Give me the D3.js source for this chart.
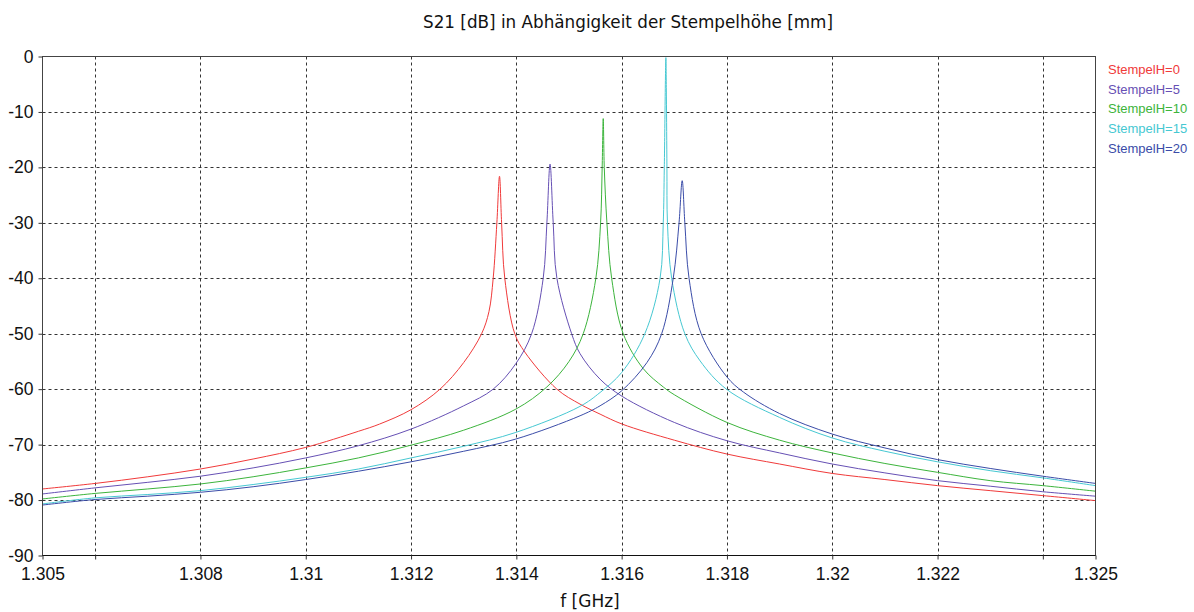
<!DOCTYPE html>
<html>
<head>
<meta charset="utf-8">
<script src="https://cdn.jsdelivr.net/npm/d3@7"></script>
<style>
  html, body { margin: 0; padding: 0; background: #fff; }
  svg { display: block; font-family: "Liberation Sans", Arial, sans-serif; }
</style>
</head>
<body>
<svg id="chart" width="1194" height="612"></svg>
<script>
// Series labels and line colours
const seriesNames = ["StempelH=0", "StempelH=5", "StempelH=10", "StempelH=15", "StempelH=20"];
const seriesColors = ["#f03a3a", "#6650b4", "#3cb43c", "#46c8d2", "#3a4ca8"];

// Frequency [GHz] and S21 [dB] samples per stamp height
const freqH0 = [1.305, 1.306, 1.307, 1.308, 1.309, 1.310, 1.311, 1.3114, 1.312, 1.31255, 1.313, 1.31334, 1.31348, 1.31356, 1.31363, 1.31368, 1.31372, 1.31378, 1.31397, 1.31416, 1.31477, 1.31521, 1.31559, 1.31601, 1.317, 1.318, 1.319, 1.320, 1.321, 1.322, 1.323, 1.324, 1.325];
const s21H0  = [-78.0, -77.0, -75.8, -74.4, -72.6, -70.5, -67.6, -66.3, -63.7, -60.0, -55.2, -50.0, -46.0, -40.0, -30.0, -21.6, -30.0, -40.0, -50.0, -53.3, -60.0, -62.7, -64.5, -66.3, -69.2, -71.7, -73.5, -75.2, -76.3, -77.4, -78.3, -79.2, -80.1];

const freqH5 = [1.305, 1.306, 1.307, 1.308, 1.309, 1.310, 1.311, 1.312, 1.313, 1.31356, 1.31399, 1.31429, 1.31451, 1.31458, 1.31464, 1.3147, 1.31477, 1.31505, 1.31521, 1.31559, 1.31601, 1.317, 1.318, 1.319, 1.320, 1.321, 1.322, 1.323, 1.324, 1.325];
const s21H5  = [-78.9, -77.8, -76.8, -75.7, -74.2, -72.4, -70.2, -67.2, -63.0, -60.0, -55.4, -50.0, -40.0, -30.0, -19.4, -30.0, -40.0, -50.0, -53.6, -58.2, -61.3, -66.0, -69.3, -71.5, -73.5, -75.1, -76.5, -77.5, -78.5, -79.3];

const freqH10 = [1.305, 1.306, 1.307, 1.308, 1.309, 1.310, 1.311, 1.312, 1.313, 1.31399, 1.31458, 1.315, 1.31527, 1.31551, 1.3156, 1.31563, 1.31565, 1.31567, 1.31572, 1.31581, 1.31603, 1.31641, 1.31679, 1.317, 1.318, 1.319, 1.320, 1.321, 1.322, 1.323, 1.324, 1.325];
const s21H10  = [-79.8, -78.8, -78.0, -77.1, -75.8, -74.2, -72.4, -70.1, -67.4, -63.6, -59.6, -55.0, -50.0, -40.0, -30.0, -20.0, -11.2, -20.0, -30.0, -40.0, -50.0, -56.3, -59.6, -61.0, -66.0, -69.2, -71.5, -73.4, -75.0, -76.5, -77.4, -78.4];

const freqH15 = [1.305, 1.306, 1.307, 1.308, 1.309, 1.310, 1.311, 1.312, 1.313, 1.31399, 1.31521, 1.31559, 1.316, 1.31644, 1.31673, 1.31679, 1.31681, 1.31684, 1.31685, 1.31686, 1.31687, 1.31695, 1.3172, 1.31749, 1.31799, 1.319, 1.320, 1.321, 1.322, 1.323, 1.324, 1.325];
const s21H15  = [-80.7, -79.6, -79.0, -78.3, -77.2, -75.9, -74.4, -72.4, -70.3, -67.8, -63.1, -60.6, -57.0, -50.0, -40.0, -30.0, -20.0, -0.2, -7.3, -20.0, -30.0, -40.0, -50.0, -54.9, -60.0, -65.1, -68.8, -71.2, -73.1, -74.7, -76.0, -77.4];

const freqH20 = [1.305, 1.306, 1.307, 1.308, 1.309, 1.310, 1.311, 1.312, 1.313, 1.31399, 1.31521, 1.31559, 1.316, 1.31648, 1.31676, 1.31698, 1.31709, 1.31715, 1.3172, 1.31728, 1.31751, 1.318, 1.31831, 1.319, 1.320, 1.321, 1.322, 1.323, 1.324, 1.325];
const s21H20  = [-80.9, -79.9, -79.3, -78.6, -77.6, -76.3, -74.8, -73.1, -71.2, -69.0, -64.8, -63.0, -60.3, -55.2, -50.0, -40.0, -30.0, -22.4, -30.0, -40.0, -50.0, -57.8, -60.5, -64.4, -68.1, -70.6, -72.7, -74.3, -75.7, -77.0];

// Axis ticks
const xGridTicks = [1.305, 1.306, 1.308, 1.310, 1.312, 1.314, 1.316, 1.318, 1.320, 1.322, 1.324, 1.325];
const xTickLabels = ["1.305", "", "1.308", "1.31", "1.312", "1.314", "1.316", "1.318", "1.32", "1.322", "", "1.325"];
const yTicks = [0, -10, -20, -30, -40, -50, -60, -70, -80, -90];

const chartTitle = "S21 [dB] in Abhängigkeit der Stempelhöhe [mm]";
const xTitle = "f [GHz]";

const freqs = [freqH0, freqH5, freqH10, freqH15, freqH20];
const vals = [s21H0, s21H5, s21H10, s21H15, s21H20];
const series = seriesNames.map((name, i) => ({
  name, color: seriesColors[i],
  points: freqs[i].map((f, j) => ({ f, v: vals[i][j] }))
}));

const svg = d3.select("#chart");
const plotLeft = 42.5, plotRight = 1095.5, plotTop = 56.5, plotBottom = 555.5;

const x = d3.scaleLinear().domain([1.305, 1.325]).range([plotLeft, plotRight]);
const y = d3.scaleLinear().domain([-90, 0]).range([plotBottom, plotTop]);

// Dashed grid
const grid = svg.append("g").attr("stroke", "#333").attr("stroke-width", 1).attr("stroke-dasharray", "3,3");
grid.selectAll("line.v").data(xGridTicks.filter(t => t > 1.305 && t < 1.325)).join("line")
  .attr("class", "v")
  .attr("x1", d => Math.round(x(d)) + 0.5).attr("x2", d => Math.round(x(d)) + 0.5)
  .attr("y1", plotTop).attr("y2", plotBottom);
grid.selectAll("line.h").data(yTicks.filter(t => t < 0 && t > -90)).join("line")
  .attr("class", "h")
  .attr("y1", d => Math.round(y(d)) + 0.5).attr("y2", d => Math.round(y(d)) + 0.5)
  .attr("x1", plotLeft).attr("x2", plotRight);

// Curves
svg.append("clipPath").attr("id", "plotClip").append("rect")
  .attr("x", plotLeft).attr("y", plotTop - 0.5).attr("width", plotRight - plotLeft).attr("height", plotBottom - plotTop);
const line = d3.line().x(d => x(d.f)).y(d => y(d.v)).curve(d3.curveCatmullRom.alpha(0.5));
svg.append("g").attr("clip-path", "url(#plotClip)")
  .selectAll("path").data(series).join("path")
  .attr("d", d => line(d.points))
  .attr("fill", "none")
  .attr("stroke", d => d.color)
  .attr("stroke-width", 1);

// Frame
svg.append("rect").attr("x", plotLeft).attr("y", plotTop).attr("width", plotRight - plotLeft).attr("height", plotBottom - plotTop)
  .attr("fill", "none").attr("stroke", "#444").attr("stroke-width", 1);
svg.append("line").attr("x1", plotLeft).attr("x2", plotRight).attr("y1", plotBottom).attr("y2", plotBottom)
  .attr("stroke", "#111");

// Y axis
const yAxis = d3.axisLeft(y).tickValues(yTicks).tickSize(4).tickPadding(5).tickFormat(d => String(d));
const gy = svg.append("g").attr("transform", `translate(${plotLeft},0)`).call(yAxis);
gy.select(".domain").remove();
gy.selectAll(".tick line").attr("stroke", "#333");
gy.selectAll(".tick text").attr("font-size", 17.5).attr("fill", "#111")
  .attr("font-family", "'Liberation Sans', Arial, sans-serif");

// X axis
const xAxis = d3.axisBottom(x).tickValues(xGridTicks).tickSize(4).tickPadding(8)
  .tickFormat((d, i) => xTickLabels[i]);
const gx = svg.append("g").attr("transform", `translate(0,${plotBottom})`).call(xAxis);
gx.select(".domain").remove();
gx.selectAll(".tick line").attr("stroke", "#333");
gx.selectAll(".tick text").attr("font-size", 17.5).attr("fill", "#111")
  .attr("font-family", "'Liberation Sans', Arial, sans-serif");

// Titles
svg.append("text").attr("x", 628).attr("y", 28).attr("text-anchor", "middle")
  .attr("font-family", "'DejaVu Sans', Verdana, sans-serif")
  .attr("font-size", 16.8).attr("fill", "#111").text(chartTitle);
svg.append("text").attr("x", 590).attr("y", 607).attr("text-anchor", "middle")
  .attr("font-family", "'DejaVu Sans', Verdana, sans-serif")
  .attr("font-size", 17).attr("fill", "#111").text(xTitle);

// Legend
svg.append("g").selectAll("text").data(series).join("text")
  .attr("x", 1108).attr("y", (d, i) => 74 + i * 19.7)
  .attr("font-size", 13).attr("fill", d => d.color).text(d => d.name);
</script>
</body>
</html>
